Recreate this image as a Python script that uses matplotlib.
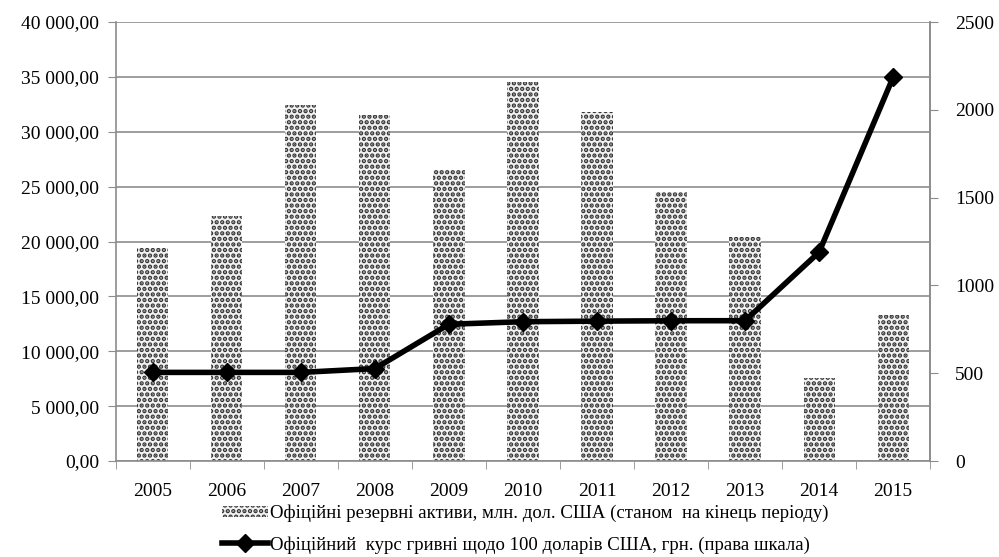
import numpy as np
import matplotlib.pyplot as plt
from matplotlib.ticker import FuncFormatter

plt.rcParams['font.family'] = ['Liberation Serif', 'DejaVu Serif']
plt.rcParams['hatch.linewidth'] = 2.2

years = ['2005', '2006', '2007', '2008', '2009', '2010', '2011', '2012', '2013', '2014', '2015']
reserves = [19390, 22358, 32479, 31543, 26505, 34576, 31795, 24546, 20416, 7533, 13300]
rate = [505.0, 505.0, 505.0, 526.7, 779.1, 793.6, 796.8, 799.1, 799.3, 1189.0, 2184.5]

bar_label = 'Офіційні резервні активи, млн. дол. США (станом  на кінець періоду)'
line_label = 'Офіційний  курс гривні щодо 100 доларів США, грн. (права шкала)'

fig = plt.figure(figsize=(9.99, 5.57), dpi=100)
ax = fig.add_axes([0.116, 0.1722, 0.815, 0.7883])
x = np.arange(len(years))

grey = '#8c8c8c'
bars = ax.bar(x, reserves, width=0.42, color='#f2f2f2', edgecolor='#333333',
              hatch='...', linewidth=0, label=bar_label, zorder=2)

ax.set_xlim(-0.5, len(years) - 0.5)
ax.set_ylim(0, 40000)
ax.set_yticks(np.arange(0, 40001, 5000))
ax.yaxis.set_major_formatter(FuncFormatter(lambda v, p: f'{v:,.2f}'.replace(',', ' ').replace('.', ',')))
ax.grid(axis='y', color=grey, linewidth=1.2, zorder=0)
ax.set_axisbelow(True)
ax.set_xticks(x)
ax.set_xticklabels(years)
ax.set_xticks(np.arange(-0.5, len(years)), minor=True)
ax.tick_params(axis='x', which='major', length=0, labelsize=14, pad=16)
ax.tick_params(axis='x', which='minor', length=6, color=grey)
ax.tick_params(axis='y', length=6, color=grey, labelsize=14, pad=6)
for s in ['left', 'bottom', 'right']:
    ax.spines[s].set_color(grey)
    ax.spines[s].set_linewidth(1.2)
ax.spines['top'].set_visible(False)

ax2 = ax.twinx()
ln, = ax2.plot(x, rate, color='black', linewidth=4, marker='D', markersize=9,
               label=line_label, zorder=3)
ax2.set_ylim(0, 2500)
ax2.set_yticks(np.arange(0, 2501, 500))
ax2.tick_params(axis='y', length=6, color=grey, labelsize=14, pad=12)
for s in ['left', 'bottom', 'right', 'top']:
    ax2.spines[s].set_visible(False)
ax2.spines['right'].set_visible(True)
ax2.spines['right'].set_color(grey)
ax2.spines['right'].set_linewidth(1.2)

fig.legend([bars, ln], [bar_label, line_label], loc='upper left',
           bbox_to_anchor=(0.222, 0.094), frameon=False, fontsize=13.5,
           handlelength=2.45, handleheight=0.6, handletextpad=0.1,
           labelspacing=0.75, borderaxespad=0, borderpad=0)

fig.savefig('out.png', dpi=100)
